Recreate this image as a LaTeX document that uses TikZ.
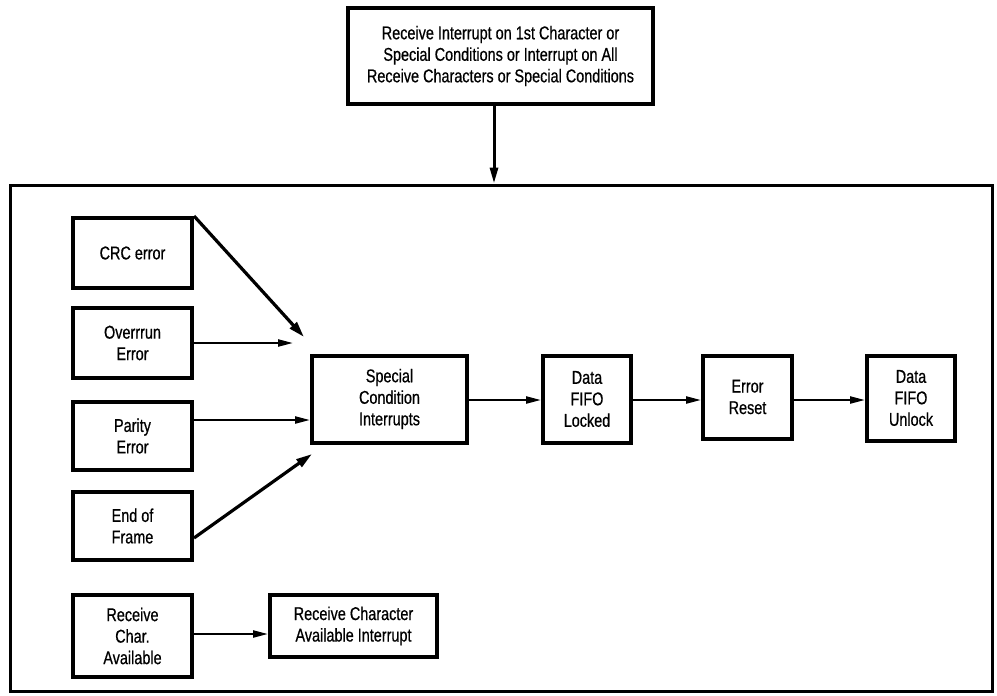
\documentclass[tikz,border=0pt]{standalone}
\usepackage{fontspec}
\setmainfont{Liberation Sans}[FakeStretch=0.78,FakeBold=0.6]
\usetikzlibrary{arrows.meta}
\begin{document}
\begin{tikzpicture}[x=1pt,y=-1pt,
  box/.style={draw, line width=4pt, align=center, inner sep=0pt,
    font=\fontsize{18.5}{21.5}\selectfont},
  arr/.style={line width=2.2pt, -{Triangle[length=15pt,width=7pt]}},
  darr/.style={line width=3.2pt, -{Triangle[length=16pt,width=9pt]}}]
\useasboundingbox (0,0) rectangle (997,696);
\node[draw, line width=3pt, minimum width=982, minimum height=506, inner sep=0pt] (outer) at (501,438) {};
\node[box, minimum width=305, minimum height=96] (top) at (500.5,56)
  {Receive Interrupt on 1st Character or\\Special Conditions or Interrupt on All\\Receive Characters or Special Conditions};
\node[box, minimum width=119, minimum height=70] (crc) at (132.5,253) {CRC error};
\node[box, minimum width=119, minimum height=70] (ovr) at (132.5,343) {Overrrun\\Error};
\node[box, minimum width=119, minimum height=68] (par) at (132.5,436) {Parity\\Error};
\node[box, minimum width=119, minimum height=68] (eof) at (132.5,526) {End of\\Frame};
\node[box, minimum width=119, minimum height=82] (rca) at (132.5,636) {Receive\\Char.\\Available};
\node[box, minimum width=167, minimum height=62] (rcai) at (353.5,626) {Receive Character\\Available Interrupt};
\node[box, minimum width=155, minimum height=87] (sci) at (389.5,399) {Special\\Condition\\Interrupts};
\node[box, minimum width=88, minimum height=87] (dfl) at (587,399) {Data\\FIFO\\Locked};
\node[box, minimum width=89, minimum height=83] (er) at (747.5,397) {Error\\Reset};
\node[box, minimum width=88, minimum height=85] (dfu) at (911,398) {Data\\FIFO\\Unlock};
\coordinate (crcend) at (304,337);
\coordinate (ovrend) at (293,343);
\coordinate (eofend) at (312,454);
\draw[line width=3pt, -{Triangle[length=16pt,width=8pt]}] ([xshift=-6.5pt]top.south) -- ([xshift=-6.5pt]top.south |- outer.north);
\draw[darr] (crc.north east) -- (crcend);
\draw[arr] (ovr.east) -- (ovrend);
\draw[arr] ([yshift=16pt]par.east) -- ([yshift=16pt]par.east -| sci.west);
\draw[darr] ([yshift=-12pt]eof.east) -- (eofend);
\draw[arr] ([yshift=-1pt]sci.east) -- ([yshift=-1pt]sci.east -| dfl.west);
\draw[arr] ([yshift=-1pt]dfl.east) -- ([yshift=-1pt]dfl.east -| er.west);
\draw[arr] ([yshift=-3pt]er.east) -- ([yshift=-3pt]er.east -| dfu.west);
\draw[arr] ([yshift=2pt]rca.east) -- ([yshift=2pt]rca.east -| rcai.west);
\end{tikzpicture}
\end{document}
